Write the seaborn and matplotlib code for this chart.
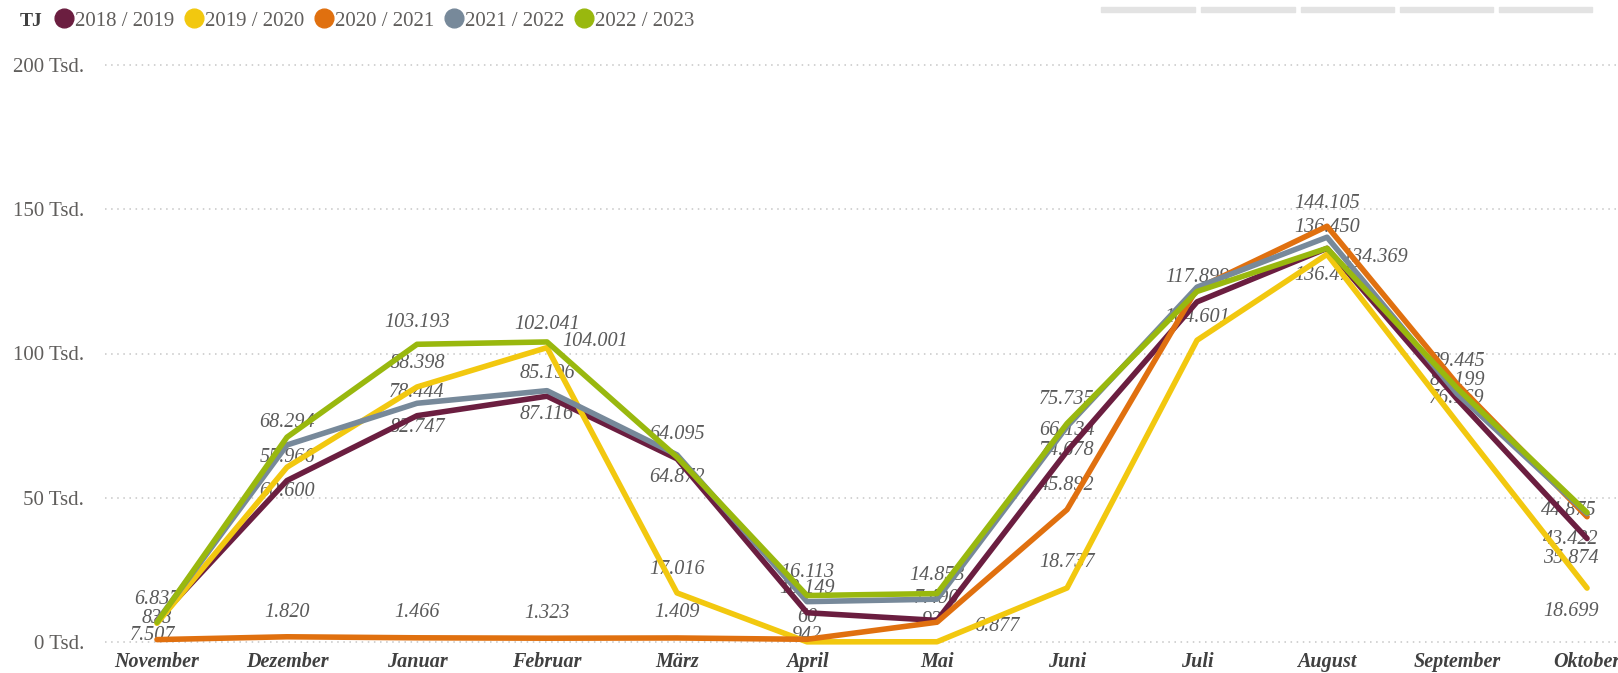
import matplotlib
matplotlib.use("Agg")
import matplotlib.pyplot as plt
import seaborn as sns
import pandas as pd
from matplotlib.lines import Line2D
from matplotlib.patches import Rectangle

# ---------------- data ----------------
months = ["November", "Dezember", "Januar", "Februar", "März", "April",
          "Mai", "Juni", "Juli", "August", "September", "Oktober"]
seasons = ["2018 / 2019", "2019 / 2020", "2020 / 2021", "2021 / 2022", "2022 / 2023"]

v_2018_19 = [7507, 55966, 78444, 85196, 63500, 10149, 7490, 66134, 117899, 136450, 84199, 35874]
v_2019_20 = [6500, 60600, 88398, 102041, 17016, 60, 93, 18737, 104601, 134369, 76169, 18699]
v_2020_21 = [838, 1820, 1466, 1323, 1409, 942, 6877, 45892, 122500, 144105, 89445, 43422]
v_2021_22 = [7200, 68294, 82747, 87116, 64872, 14000, 14853, 74678, 123000, 140300, 86068, 44500]
v_2022_23 = [6837, 71000, 103193, 104001, 64095, 16113, 16800, 75735, 121500, 136476, 88000, 44875]

y_ticks = [0, 50000, 100000, 150000, 200000]
y_tick_labels = ["0 Tsd.", "50 Tsd.", "100 Tsd.", "150 Tsd.", "200 Tsd."]

# ---------------- styles ----------------
colors = ["#6B1E40", "#F2C80F", "#E0700F", "#77899A", "#99B80E"]

# which data labels are shown and where (month index, dx px, dy px up)
label_pos = {
    "2018 / 2019": [(0, -4, -15), (1, 0, 23), (2, 0, 23), (3, 0, 23), (5, 0, 24), (6, 0, 22),
                    (7, 0, 21), (8, 0, 24), (9, 0, 21), (10, 0, 19), (11, -16, -20)],
    "2019 / 2020": [(1, 0, -24), (2, 0, 23), (3, 0, 23), (4, 0, 23), (5, 0, 24), (6, -6, 21),
                    (7, 0, 25), (8, 0, 23), (9, 48, -3), (10, 0, 24), (11, -16, -23)],
    "2020 / 2021": [(0, 0, 21), (1, 0, 24), (2, 0, 25), (3, 0, 25), (4, 0, 25), (5, 0, 4),
                    (6, 60, -4), (7, 0, 24), (9, 0, 23), (10, 0, 22), (11, -16, -23)],
    "2021 / 2022": [(1, 0, 22), (2, 0, -24), (3, 0, -24), (4, 0, -23), (6, 0, 24), (7, 0, -24)],
    "2022 / 2023": [(0, 0, 23), (2, 0, 22), (3, 48, 0), (4, 0, 23), (5, 0, 23), (7, 0, 24),
                    (9, 0, -27), (11, -18, 2)],
}

series = dict(zip(seasons, [v_2018_19, v_2019_20, v_2020_21, v_2021_22, v_2022_23]))
rows = []
for s in seasons:
    for m, v in zip(months, series[s]):
        rows.append({"Monat": m, "TJ": v, "Saison": s})
df = pd.DataFrame(rows)

sns.set_theme(style="white")
plt.rcParams["font.family"] = ["Liberation Serif", "DejaVu Serif"]

W, H = 1618, 673
fig = plt.figure(figsize=(W / 100, H / 100), dpi=100)

# axes placement (pixel-derived)
x_left_px, x_right_px = 105, 1618
y_top_px, y_bot_px = 59.2, 647.8
ax = fig.add_axes([x_left_px / W, 1 - y_bot_px / H,
                   (x_right_px - x_left_px) / W, (y_bot_px - y_top_px) / H])

sns.lineplot(data=df, x="Monat", y="TJ", hue="Saison", hue_order=seasons,
             palette=colors, sort=False, linewidth=4, ax=ax, legend=False,
             zorder=3)
for ln in ax.lines:
    ln.set_solid_joinstyle("round")
    ln.set_solid_capstyle("round")

ax.set_xlim(-0.4, 11.238)
ax.set_ylim(-2000, 202000)
ax.set_yticks(y_ticks)
ax.set_yticklabels(y_tick_labels)
ax.set_xticks(range(len(months)))
ax.set_xticklabels(months)
ax.set_xlabel("")
ax.set_ylabel("")
for sp in ax.spines.values():
    sp.set_visible(False)
ax.yaxis.grid(True, linestyle=(0, (1, 3)), color="#c6c6c6", linewidth=1.1)
ax.xaxis.grid(False)
ax.set_axisbelow(True)
ax.tick_params(axis="y", length=0, pad=15, labelsize=15, labelcolor="#605E5C")
ax.tick_params(axis="x", length=0, pad=3, labelsize=14.5, labelcolor="#404040")
for t in ax.get_xticklabels():
    t.set_fontweight("bold")
    t.set_fontstyle("italic")


def de(v):
    return f"{v:,}".replace(",", ".")


for s in seasons:
    vals = series[s]
    for (i, dx, dy) in label_pos[s]:
        ax.annotate(de(vals[i]), xy=(i, vals[i]), xytext=(dx, dy),
                    textcoords="offset pixels", ha="center", va="center",
                    fontsize=14.5, fontstyle="italic", color="#5A5A5A",
                    zorder=2, annotation_clip=False)

# legend
fig.text(20 / W, 1 - 21 / H, "TJ", fontsize=14, fontweight="bold",
         color="#404040", va="center", ha="left")
handles = [Line2D([0], [0], marker="o", linestyle="none", markersize=13.5,
                  markerfacecolor=c, markeredgecolor=c) for c in colors]
fig.legend(handles, seasons, ncol=5, loc="center left",
           bbox_to_anchor=(56 / W, 1 - 21 / H), frameon=False,
           handlelength=0.8, handletextpad=0.12, columnspacing=0.55,
           borderaxespad=0, borderpad=0,
           prop={"size": 15, "family": ["Liberation Serif"]}, labelcolor="#605E5C")

# decorative header bars (top right)
for x0, x1 in [(1101, 1195), (1201, 1295), (1301, 1394), (1400, 1493), (1499, 1592)]:
    fig.patches.append(Rectangle((x0 / W, 1 - 12 / H), (x1 - x0) / W, 5 / H,
                                 transform=fig.transFigure, color="#e3e3e3"))

fig.savefig("out.png", dpi=100)
